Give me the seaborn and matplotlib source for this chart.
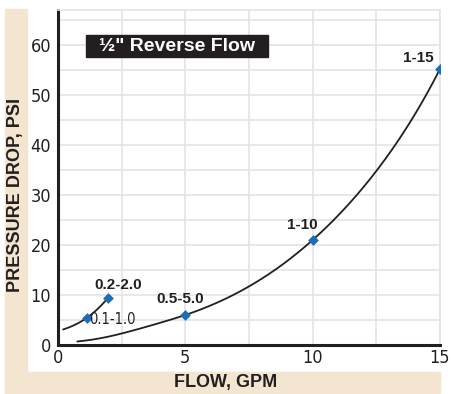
import numpy as np
import pandas as pd
import matplotlib
matplotlib.use("Agg")
import matplotlib.pyplot as plt
from matplotlib.patches import Rectangle
import seaborn as sns

# Rated points for each cartridge size
series_labels = ["0.1-1.0", "0.2-2.0", "0.5-5.0", "1-10", "1-15"]
flow_gpm = [1.15, 1.97, 5.0, 10.0, 15.0]
pressure_psi = [5.5, 9.5, 6.0, 21.0, 55.2]

# Pressure-drop curves (knots along each line)
small_flow = [0.2, 0.65, 1.15, 1.97]
small_psi = [3.1, 4.0, 5.5, 9.5]
large_flow = [0.76, 2.5, 5.0, 10.0, 12.5, 15.0]
large_psi = [0.7, 2.3, 6.0, 21.0, 34.8, 55.2]

x_ticks = [0, 5, 10, 15]
y_ticks = [0, 10, 20, 30, 40, 50, 60]


def natural_spline(xs, ys, n=300):
    """Natural cubic spline through the knots, sampled for drawing."""
    x = np.asarray(xs, float)
    y = np.asarray(ys, float)
    k = len(x)
    h = np.diff(x)
    A = np.zeros((k, k))
    b = np.zeros(k)
    A[0, 0] = A[-1, -1] = 1.0
    for i in range(1, k - 1):
        A[i, i - 1] = h[i - 1]
        A[i, i] = 2 * (h[i - 1] + h[i])
        A[i, i + 1] = h[i]
        b[i] = 3 * ((y[i + 1] - y[i]) / h[i] - (y[i] - y[i - 1]) / h[i - 1])
    c = np.linalg.solve(A, b)
    bb = (y[1:] - y[:-1]) / h - h * (2 * c[:-1] + c[1:]) / 3
    d = (c[1:] - c[:-1]) / (3 * h)
    xx = np.linspace(x[0], x[-1], n)
    idx = np.clip(np.searchsorted(x, xx) - 1, 0, k - 2)
    dx = xx - x[idx]
    yy = y[idx] + bb[idx] * dx + c[idx] * dx ** 2 + d[idx] * dx ** 3
    return xx, yy


def log_spline(xs, ys):
    # spline through log(psi) keeps the rising curve smooth
    xx, ly = natural_spline(xs, np.log(ys))
    return xx, np.exp(ly)


sns.set_style("white")
plt.rcParams["font.family"] = ["Liberation Sans", "DejaVu Sans"]

ink = "#231F20"
grid_c = "#E4E4E4"
beige = "#F3E5D0"
blue = "#1B6DB4"

fig = plt.figure(figsize=(4.52, 3.94), dpi=100)
W, H = 452, 394

# Beige L-shaped label band
fig.patches.append(Rectangle((5 / W, 1 - 393 / H), 22 / W, (393 - 9) / H,
                             transform=fig.transFigure, color=beige, zorder=0))
fig.patches.append(Rectangle((27 / W, 1 - 393 / H), 413 / W, 21 / H,
                             transform=fig.transFigure, color=beige, zorder=0))

ax = fig.add_axes([58 / W, 1 - 345 / H, 382 / W, 335 / H])

sx, sy = log_spline(small_flow, small_psi)
lx, ly = log_spline(large_flow, large_psi)
sns.lineplot(x=sx, y=sy, ax=ax, color=ink, lw=1.3, sort=False, zorder=3)
sns.lineplot(x=lx, y=ly, ax=ax, color=ink, lw=1.3, sort=False, zorder=3)

pts = pd.DataFrame({"flow": flow_gpm, "psi": pressure_psi, "label": series_labels})
sns.scatterplot(data=pts, x="flow", y="psi", ax=ax, marker="D", s=30,
                color=blue, edgecolor=blue, linewidth=0, zorder=4)

ax.set_xlim(0, 15)
ax.set_ylim(0, 67)
ax.set_xticks(x_ticks)
ax.set_yticks(y_ticks)
ax.set_xticks(np.arange(0, 15.01, 2.5), minor=True)
ax.set_yticks(np.arange(0, 66, 5), minor=True)
ax.grid(True, which="both", color=grid_c, lw=1.2)
ax.set_axisbelow(True)
ax.tick_params(axis="both", which="both", length=0)
ax.tick_params(axis="y", pad=5)
ax.tick_params(axis="x", pad=3)
for lab in ax.get_xticklabels() + ax.get_yticklabels():
    lab.set_family("DejaVu Sans")
    lab.set_stretch("condensed")
    lab.set_fontsize(13)
    lab.set_color(ink)
    lab.set_fontweight("light")

for side in ("left", "bottom"):
    ax.spines[side].set_color(ink)
    ax.spines[side].set_linewidth(2.2)
for side in ("top", "right"):
    ax.spines[side].set_color(grid_c)
    ax.spines[side].set_linewidth(1.2)

ax.set_xlabel("")
ax.set_ylabel("")

# Point labels
label_pos = {
    "0.2-2.0": (118, 285),
    "0.5-5.0": (180, 299),
    "1-10": (302, 225),
    "1-15": (418, 58),
}
for lab, (px, py) in label_pos.items():
    fig.text(px / W, 1 - py / H, lab, ha="center", va="center",
             fontsize=11, fontweight="bold", color=ink)
fig.text(112 / W, 1 - 320 / H, "0.1-1.0", ha="center", va="center",
         fontsize=10.5, color=ink, family="DejaVu Sans", stretch="condensed")

# Title box
fig.patches.append(Rectangle((86 / W, 1 - 57 / H), 182 / W, 22 / H,
                             transform=fig.transFigure, color=ink, zorder=2))
fig.text(177 / W, 1 - 46.5 / H, "½\" Reverse Flow", ha="center", va="center",
         fontsize=14, fontweight="bold", color="white", zorder=3)

# Axis titles
fig.text(16 / W, 1 - 195 / H, "PRESSURE DROP, PSI", rotation=90,
         ha="center", va="center", fontsize=13, fontweight="bold", color=ink)
fig.text(226 / W, 1 - 383 / H, "FLOW, GPM", ha="center", va="center",
         fontsize=13, fontweight="bold", color=ink)

fig.savefig("out.png", dpi=100)
